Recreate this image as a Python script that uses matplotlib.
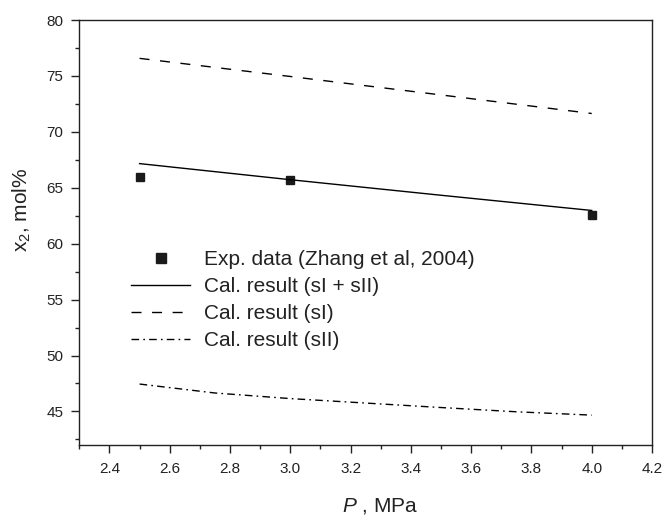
import matplotlib
matplotlib.use("Agg")
import matplotlib.pyplot as plt
from matplotlib.ticker import MultipleLocator

plt.rcParams['font.family'] = ['Liberation Sans', 'DejaVu Sans']
plt.rcParams['mathtext.fontset'] = 'custom'
plt.rcParams['mathtext.rm'] = 'Liberation Sans'
plt.rcParams['mathtext.it'] = 'Liberation Sans:italic'

# Experimental data (Zhang et al, 2004)
exp_p = [2.5, 3.0, 4.0]
exp_x2 = [65.96, 65.66, 62.59]

# Calculated results
cal_p = [2.5, 3.0, 3.5, 4.0]
cal_mix = [67.16, 65.72, 64.33, 62.97]
cal_si = [76.57, 74.95, 73.30, 71.64]

cal_p_sii = [2.5, 2.75, 3.0, 3.25, 3.5, 3.75, 4.0]
cal_sii = [47.45, 46.65, 46.15, 45.75, 45.35, 44.97, 44.67]

x_ticks = [2.4, 2.6, 2.8, 3.0, 3.2, 3.4, 3.6, 3.8, 4.0, 4.2]
y_ticks = [45, 50, 55, 60, 65, 70, 75, 80]

ink = '#222222'

fig = plt.figure(figsize=(6.62, 5.15), dpi=100)
ax = fig.add_axes([79.3 / 662, 1 - 445 / 515, (652 - 79.3) / 662, (445 - 20) / 515])

ax.plot(exp_p, exp_x2, linestyle='none', marker='s', color='#1a1a1a',
        markersize=6.3, label='Exp. data (Zhang et al, 2004)')
ax.plot(cal_p, cal_mix, '-', color='black', lw=1.0, label='Cal. result (sI + sII)')
ax.plot(cal_p, cal_si, color='black', lw=1.0, dashes=(7.2, 7.6), label='Cal. result (sI)')
ax.plot(cal_p_sii, cal_sii, color='black', lw=1.0, dashes=(5.5, 3, 1.2, 3),
        label='Cal. result (sII)')

ax.set_xlim(2.3, 4.2)
ax.set_ylim(42, 80)
ax.set_xticks(x_ticks)
ax.set_xticklabels(['%.1f' % v for v in x_ticks])
ax.set_yticks(y_ticks)
ax.xaxis.set_minor_locator(MultipleLocator(0.1))
ax.yaxis.set_minor_locator(MultipleLocator(2.5))

ax.tick_params(which='major', direction='out', length=6, width=1.0,
               labelsize=11, colors=ink)
ax.tick_params(axis='x', which='major', pad=6)
ax.tick_params(axis='y', which='major', pad=5.5)
ax.tick_params(which='minor', direction='out', length=3, width=1.0, colors=ink)
for s in ax.spines.values():
    s.set_linewidth(1.0)
    s.set_color(ink)

ax.set_xlabel('$P$ , MPa', fontsize=15, color=ink)
ax.xaxis.set_label_coords(0.5245, -0.157)
ax.xaxis.label.set_verticalalignment('baseline')

ax.set_ylabel('x$_2$, mol%', fontsize=15, color=ink)
ax.yaxis.set_label_coords(-0.100, 0.553)
ax.yaxis.label.set_verticalalignment('center')

leg = ax.legend(loc='upper left', bbox_to_anchor=(0.090, 0.458), frameon=False,
                fontsize=15, handlelength=2.85, handletextpad=0.67,
                labelspacing=0.38, borderpad=0, borderaxespad=0,
                markerscale=1.15)
for t in leg.get_texts():
    t.set_color(ink)

fig.savefig('out.png', dpi=100)
